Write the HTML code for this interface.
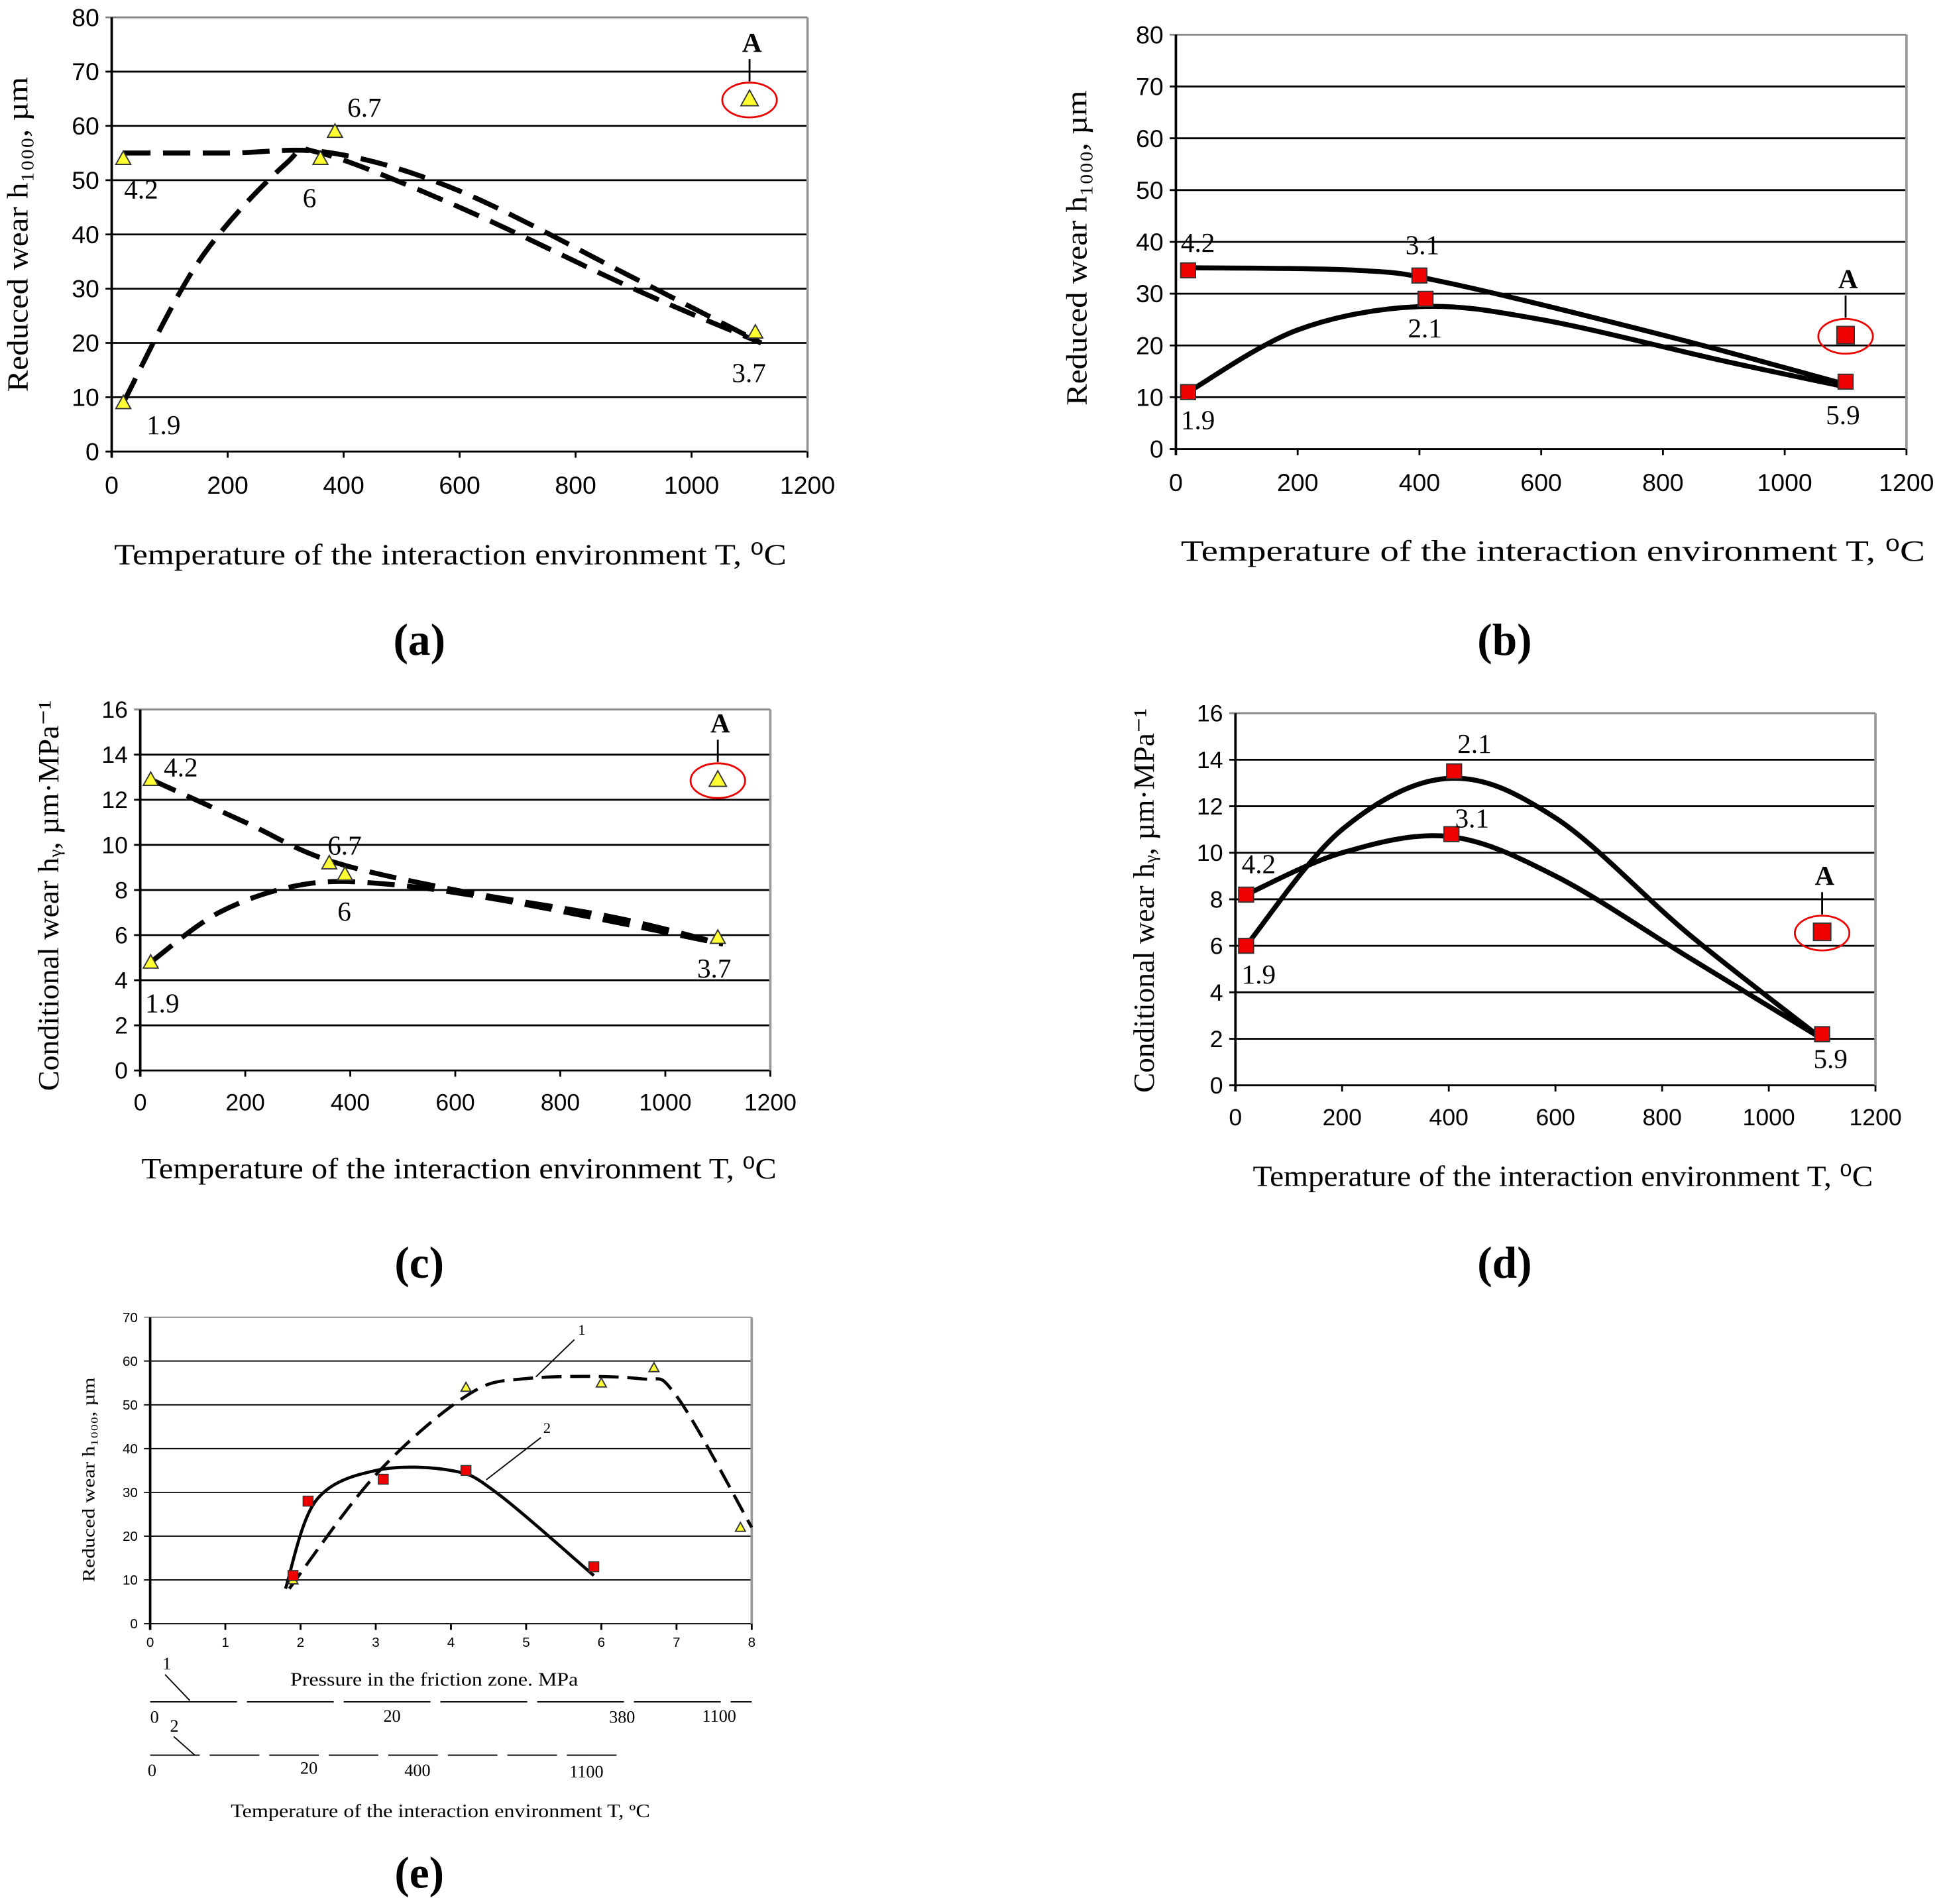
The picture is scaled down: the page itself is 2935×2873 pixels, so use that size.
<!DOCTYPE html>
<html><head><meta charset="utf-8"><style>
html,body{margin:0;padding:0;background:#fff}
svg{display:block}
text{font-family:"Liberation Serif",serif;fill:#000}
.tk{font-family:"Liberation Sans",sans-serif}
</style></head><body>
<svg id="fig" xmlns="http://www.w3.org/2000/svg" width="2935" height="2873" viewBox="0 0 1568 1535"></svg>
<script>
// ---- data ----
const tempTicks = [0,200,400,600,800,1000,1200];
// panel a
const aTri = [[20,54],[360,54],[385,59],[20,9],[1110,22]];
const aOutlier = [1100,65];
const aCurve1 = [[20,55],[200,55],[380,55],[600,48],[900,32],[1120,20]];
const aCurve2 = [[20,9],[150,35],[300,53],[360,55],[600,45],[900,30],[1120,20]];
// panel b
const bSq = [[20,34.5],[400,33.5],[410,29],[20,11],[1100,13]];
const bOutlier = [1100,22];
const bCurve1 = [[20,35],[300,34.5],[450,32],[800,22],[1100,12.5]];
const bCurve2 = [[20,11],[200,23],[400,27.5],[600,25],[900,17],[1100,12]];
// panel c
const cTri = [[20,12.9],[360,9.2],[390,8.7],[20,4.8],[1100,5.9]];
const cOutlier = [1100,12.9];
const cCurve1 = [[20,12.9],[200,11],[360,9.3],[600,8],[900,6.8],[1110,5.6]];
const cCurve2 = [[20,4.8],[150,7],[300,8.2],[450,8.3],[700,7.5],[1110,5.6]];
// panel d
const dSq = [[20,8.2],[410,13.5],[405,10.8],[20,6],[1100,2.2]];
const dOutlier = [1100,6.6];
const dCurve1 = [[20,6],[200,11],[400,13.2],[600,11.5],[850,6.5],[1100,2]];
const dCurve2 = [[20,8.2],[200,10],[400,10.7],[600,9],[850,5.5],[1100,2]];
// panel e
const eTri = [[1.9,10],[4.2,54],[6,55],[6.7,58.5],[7.85,22]];
const eSq = [[2.1,28],[3.1,33],[4.2,35],[5.9,13],[1.9,11]];
const eCurve1 = [[1.85,8],[3,34],[4.2,52],[5,56],[6.5,56],[7,52],[8,22]];
const eCurve2 = [[1.8,8],[2.2,28],[3,35],[4,35],[4.6,30],[5.9,11]];

const NS="http://www.w3.org/2000/svg";
const svg=document.getElementById('fig');
function mk(tag,attrs,parent,txt){const e=document.createElementNS(NS,tag);for(const k in attrs)e.setAttribute(k,attrs[k]);if(txt!==undefined)e.textContent=txt;(parent||svg).appendChild(e);return e;}
function smooth(pts){let d=`M${pts[0][0]},${pts[0][1]}`;for(let i=0;i<pts.length-1;i++){const p0=pts[i-1]||pts[i],p1=pts[i],p2=pts[i+1],p3=pts[i+2]||p2;d+=` C${p1[0]+(p2[0]-p0[0])/6},${p1[1]+(p2[1]-p0[1])/6} ${p2[0]-(p3[0]-p1[0])/6},${p2[1]-(p3[1]-p1[1])/6} ${p2[0]},${p2[1]}`;}return d;}

function panel(o){
  const g=mk('g',{});
  
  
  const X=v=>o.x0+(v-o.xmin)/(o.xmax-o.xmin)*(o.x1-o.x0);
  const Y=v=>o.y0-(v-o.ymin)/(o.ymax-o.ymin)*(o.y0-o.y1);
  for(let v=o.ymin;v<=o.ymax;v+=o.ystep){
    const gl=mk('line',{x1:o.x0-5,x2:o.x1,y1:Y(v),y2:Y(v),stroke:v==o.ymax?'#888':'#000','stroke-width':o.sw||1.5},g);
    
    
    const t=mk('text',{x:o.x0-10,y:Y(v)+o.fs*0.35,'text-anchor':'end','font-size':o.fs,class:'tk'},g,v);
    
    
  }
  mk('line',{x1:o.x1,x2:o.x1,y1:o.y1,y2:o.y0,stroke:'#999','stroke-width':2},g);
  const ax=mk('line',{x1:o.x0,x2:o.x0,y1:o.y1,y2:o.y0+5,stroke:'#000','stroke-width':2},g);
  
  
  o.xticks.forEach(v=>{
    mk('line',{x1:X(v),x2:X(v),y1:o.y0,y2:o.y0+5,stroke:'#000','stroke-width':1.5},g);
    const t=mk('text',{x:X(v),y:o.y0+o.fs*1.7,'text-anchor':'middle','font-size':o.fs,class:'tk'},g,v);
    
    
  });
  o.curves.forEach(c=>{
    const p=mk('path',{d:smooth(c.pts.map(q=>[X(q[0]),Y(q[1])])),fill:'none',stroke:'#000','stroke-width':o.cw||4,'stroke-dasharray':c.dash||'none'},g);
    
    
  });
  o.marks.forEach(m=>{
    const x=X(m[0]),y=Y(m[1]),s=o.ms||6;let e;
    if(o.marker=='tri') e=mk('polygon',{points:`${x},${y-s} ${x-s},${y+s*0.8} ${x+s},${y+s*0.8}`,fill:'#ffff33',stroke:'#333','stroke-width':1},g);
    else e=mk('rect',{x:x-s,y:y-s,width:2*s,height:2*s,fill:'#e00',stroke:'#333','stroke-width':1},g);
    
    
  });
  if(o.outlier){
    const x=X(o.outlier[0]),y=Y(o.outlier[1]);
    const el=mk('ellipse',{cx:x,cy:y+1,rx:22,ry:14,fill:'none',stroke:'#e00','stroke-width':1.5},g);
    
    
    mk('line',{x1:x,x2:x,y1:y-14,y2:y-32,stroke:'#000','stroke-width':1.5},g);
    const t=mk('text',{x:x+2,y:y-38,'text-anchor':'middle','font-size':22,'font-weight':'bold'},g,'A');
    
    
    const s=7;
    if(o.marker=='tri') mk('polygon',{points:`${x},${y-s} ${x-s},${y+s*0.8} ${x+s},${y+s*0.8}`,fill:'#ffff33',stroke:'#333','stroke-width':1},g);
    else mk('rect',{x:x-s,y:y-s,width:2*s,height:2*s,fill:'#e00',stroke:'#333','stroke-width':1},g);
  }
  (o.labels||[]).forEach(l=>{
    const t=mk('text',{x:l[0],y:l[1],'font-size':o.lfs||22},g,l[2]);
    
    
  });
  const yt=mk('text',{transform:`translate(${o.ytx},${o.ytc||(o.y0+o.y1)/2}) rotate(-90)`,'text-anchor':'middle','font-size':o.tfs||24,textLength:o.ytl,lengthAdjust:'spacingAndGlyphs'},g,o.ytitle);
  
  
  if(o.xtitle){const xt=mk('text',{x:o.xtx,y:o.xty,'text-anchor':'middle','font-size':o.tfs||24,textLength:o.xtl,lengthAdjust:'spacingAndGlyphs'},g,o.xtitle);
  
  }
  const pl=mk('text',{x:o.plx,y:o.ply,'text-anchor':'middle','font-size':36,'font-weight':'bold'},g,o.plabel);
  
  
}
const xT='Temperature of the interaction environment T, \u2070C';
panel({name:'chart-a',x0:90,x1:651,y0:364,y1:14,xmin:0,xmax:1200,ymin:0,ymax:80,ystep:10,xticks:tempTicks,fs:20,
  curves:[{pts:aCurve1,dash:'22,10'},{pts:aCurve2,dash:'22,10'}],marks:aTri,marker:'tri',outlier:aOutlier,
  labels:[[100,160,'4.2'],[244,167,'6'],[280,94,'6.7'],[118,350,'1.9'],[590,308,'3.7']],
  ytitle:'Reduced wear h\u2081\u2080\u2080\u2080, \u00b5m',ytx:22,ytc:189,ytl:254,xtitle:xT,xtx:363,xty:455,xtl:542,plabel:'(a)',plx:338,ply:528});
panel({name:'chart-b',x0:948,x1:1537,y0:362,y1:28,xmin:0,xmax:1200,ymin:0,ymax:80,ystep:10,xticks:tempTicks,fs:20,
  curves:[{pts:bCurve1},{pts:bCurve2}],marks:bSq,marker:'sq',outlier:bOutlier,
  labels:[[952,203,'4.2'],[1133,205,'3.1'],[1135,272,'2.1'],[952,346,'1.9'],[1472,342,'5.9']],
  ytitle:'Reduced wear h\u2081\u2080\u2080\u2080, \u00b5m',ytx:876,ytc:200,ytl:254,xtitle:xT,xtx:1252,xty:452,xtl:600,plabel:'(b)',plx:1213,ply:528});
panel({name:'chart-c',x0:113,x1:621,y0:863,y1:572,xmin:0,xmax:1200,ymin:0,ymax:16,ystep:2,xticks:tempTicks,fs:19,
  curves:[{pts:cCurve1,dash:'22,10'},{pts:cCurve2,dash:'22,10'}],marks:cTri,marker:'tri',outlier:cOutlier,
  labels:[[132,626,'4.2'],[264,689,'6.7'],[272,742,'6'],[117,816,'1.9'],[562,788,'3.7']],
  ytitle:'Conditional wear h\u1d67, \u00b5m\u00b7MPa\u207b\u00b9',ytx:47,ytc:722,ytl:315,xtitle:xT,xtx:370,xty:950,xtl:512,plabel:'(c)',plx:338,ply:1030});
panel({name:'chart-d',x0:996,x1:1512,y0:875,y1:575,xmin:0,xmax:1200,ymin:0,ymax:16,ystep:2,xticks:tempTicks,fs:19,
  curves:[{pts:dCurve1},{pts:dCurve2}],marks:dSq,marker:'sq',outlier:dOutlier,
  labels:[[1001,704,'4.2'],[1175,607,'2.1'],[1173,667,'3.1'],[1001,793,'1.9'],[1462,861,'5.9']],
  ytitle:'Conditional wear h\u1d67, \u00b5m\u00b7MPa\u207b\u00b9',ytx:930,ytc:726,ytl:310,xtitle:xT,xtx:1260,xty:956,xtl:500,plabel:'(d)',plx:1213,ply:1030});
panel({name:'chart-e',x0:121,x1:606,y0:1309,y1:1062,xmin:0,xmax:8,ymin:0,ymax:70,ystep:10,xticks:[0,1,2,3,4,5,6,7,8],fs:11,sw:1,cw:2.5,ms:4,
  curves:[{pts:eCurve1,dash:'16,7'},{pts:eCurve2}],marks:eTri,marker:'tri',
  labels:[],ytitle:'Reduced wear h\u2081\u2080\u2080\u2080, \u00b5m',ytx:76,ytc:1193,ytl:165,tfs:14,plabel:'(e)',plx:338,ply:1522});
// panel e: squares and secondary axes
(function(){const g=svg.lastChild;const X=v=>121+v/8*485,Y=v=>1309-v/70*247;
 eSq.forEach(p=>{const r=mk('rect',{x:X(p[0])-4,y:Y(p[1])-4,width:8,height:8,fill:'#e00',stroke:'#333','stroke-width':0.8},g);
 
 });
 const ex=[['1',466,1076],['2',438,1155]];
 ex.forEach(l=>{mk('text',{x:l[1],y:l[2],'font-size':12},g,l[0]);});
 mk('line',{x1:463,y1:1080,x2:432,y2:1110,stroke:'#000','stroke-width':1},g);
 mk('line',{x1:436,y1:1159,x2:392,y2:1193,stroke:'#000','stroke-width':1},g);
 let t=mk('text',{x:350,y:1359,'text-anchor':'middle','font-size':15,textLength:232,lengthAdjust:'spacingAndGlyphs'},g,'Pressure in the friction zone. MPa');
 
 
 mk('line',{x1:121,y1:1372,x2:606,y2:1372,stroke:'#000','stroke-width':1,'stroke-dasharray':'70,8'},g);
 mk('line',{x1:121,y1:1415,x2:500,y2:1415,stroke:'#000','stroke-width':1,'stroke-dasharray':'40,8'},g);
 [[131,1346,'1'],[137,1396,'2'],[121,1389,'0'],[309,1388,'20'],[491,1389,'380'],[566,1388,'1100'],[119,1432,'0'],[242,1430,'20'],[326,1432,'400'],[459,1433,'1100']].forEach(l=>mk('text',{x:l[0],y:l[1],'font-size':14},g,l[2]));
 mk('line',{x1:133,y1:1350,x2:153,y2:1371,stroke:'#000','stroke-width':1},g);
 mk('line',{x1:140,y1:1400,x2:157,y2:1415,stroke:'#000','stroke-width':1},g);
 t=mk('text',{x:355,y:1465,'text-anchor':'middle','font-size':15,textLength:338,lengthAdjust:'spacingAndGlyphs'},g,'Temperature of the interaction environment T, \u00baC');
 
 
})();
</script>
</body></html>
